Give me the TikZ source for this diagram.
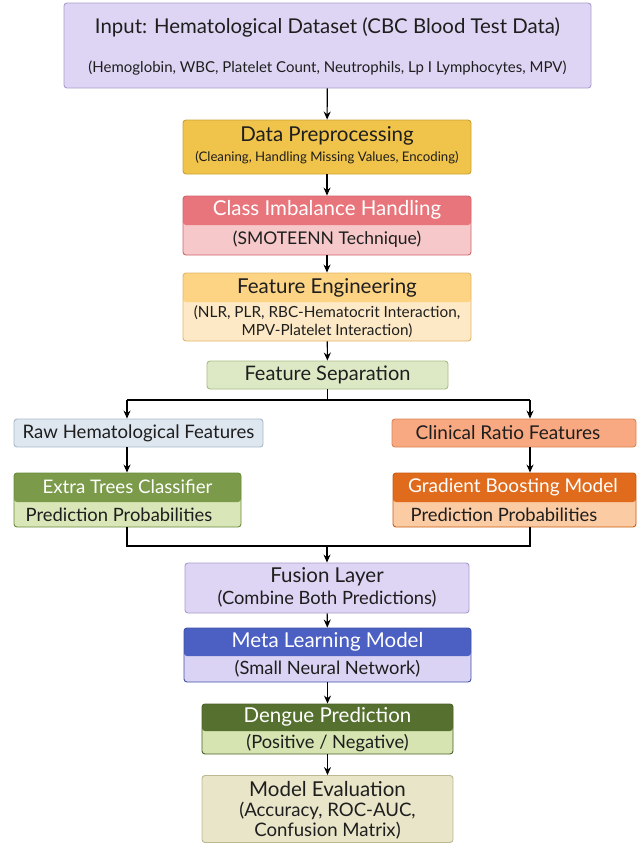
\documentclass[tikz,border=0pt]{standalone}
\usepackage{fontspec}
\setmainfont{Lato}
\usetikzlibrary{arrows.meta}

\definecolor{lav}{HTML}{DDD5F3}
\definecolor{lavd}{HTML}{A99DCB}
\definecolor{gold}{HTML}{F0C34B}
\definecolor{goldd}{HTML}{C9A134}
\definecolor{redt}{HTML}{E8757B}
\definecolor{redb}{HTML}{F6C8CA}
\definecolor{redd}{HTML}{D2646B}
\definecolor{oret}{HTML}{FDD384}
\definecolor{oreb}{HTML}{FDE9C5}
\definecolor{ored}{HTML}{E2B566}
\definecolor{sage}{HTML}{DDE9C5}
\definecolor{saged}{HTML}{A9BC82}
\definecolor{grayb}{HTML}{DEE7EF}
\definecolor{graybd}{HTML}{A7B8C8}
\definecolor{salm}{HTML}{F9A981}
\definecolor{salmd}{HTML}{D98554}
\definecolor{olvt}{HTML}{7B9B4A}
\definecolor{olvb}{HTML}{D9E6B7}
\definecolor{olvd}{HTML}{6A8A3B}
\definecolor{orgt}{HTML}{E06B1C}
\definecolor{orgb}{HTML}{FBCBA3}
\definecolor{orgd}{HTML}{C95C12}
\definecolor{blut}{HTML}{4B60C2}
\definecolor{blub}{HTML}{DAD3F3}
\definecolor{blud}{HTML}{3F52A8}
\definecolor{dgnt}{HTML}{56712F}
\definecolor{dgnb}{HTML}{D5E4B0}
\definecolor{dgnd}{HTML}{4A6128}
\definecolor{beig}{HTML}{E9E5C8}
\definecolor{beigd}{HTML}{BDB891}
\definecolor{ink}{HTML}{1E1E1E}

\tikzset{
  box/.style={draw=#1, rounded corners=3pt, line width=0.9pt, inner sep=0pt},
  duo/.style n args={4}{draw=#1, rounded corners=3pt, line width=0.9pt, inner sep=0pt,
    fill=#3, path picture={\fill[#2] (path picture bounding box.north west)
      rectangle ([yshift=-#4]path picture bounding box.north east);}},
  arr/.style={-{Stealth[length=8pt,width=7pt]}, line width=1.1pt},
  ln/.style={line width=1.1pt},
  ttl/.style={text=ink, font=\fontsize{20.5}{24}\selectfont},
  wttl/.style={text=white, font=\fontsize{20.5}{24}\selectfont},
  sub/.style={text=ink, font=\fontsize{18.3}{21}\selectfont, align=center},
}

\begin{document}
\begin{tikzpicture}[x=1pt,y=-1pt]
\useasboundingbox (0,0) rectangle (641,844);

% input
\node[box=lavd, fill=lav, minimum width=527pt, minimum height=85pt] (inp) at (327.5,45.5) {};
\node[ttl, font=\fontsize{20.4}{24}\selectfont] (inp-t) at (327.5,27) {Input: Hematological Dataset (CBC Blood Test Data)};
\node[sub, font=\fontsize{15}{18}\selectfont] (inp-s) at (327.5,68) {(Hemoglobin, WBC, Platelet Count, Neutrophils, Lp I Lymphocytes, MPV)};

% preprocessing
\node[box=goldd, fill=gold, minimum width=288pt, minimum height=54pt] (pre) at (327,147) {};
\node[ttl] (pre-t) at (327,136) {Data Preprocessing};
\node[sub, font=\fontsize{13.2}{16}\selectfont] (pre-s) at (327,158) {(Cleaning, Handling Missing Values, Encoding)};

% class imbalance
\node[duo={redd}{redt}{redb}{29pt}, minimum width=288pt, minimum height=59pt] (cls) at (327,225.5) {};
\node[wttl] (cls-t) at (327,210) {Class Imbalance Handling};
\node[sub, font=\fontsize{17.5}{21}\selectfont] (cls-s) at (327,239) {(SMOTEENN Technique)};

% feature engineering
\node[duo={ored}{oret}{oreb}{29pt}, minimum width=288pt, minimum height=68pt] (fe) at (327,307) {};
\node[ttl] (fe-t) at (327,288) {Feature Engineering};
\node[sub, font=\fontsize{15.3}{17.5}\selectfont] (fe-s) at (327,321.5) {(NLR, PLR, RBC-Hematocrit Interaction,\\MPV-Platelet Interaction)};

% separation
\node[box=saged, fill=sage, minimum width=241pt, minimum height=28pt] (fs) at (327.5,375) {};
\node[ttl, font=\fontsize{20}{24}\selectfont] (fs-t) at (327.5,375) {Feature Separation};

% two branches
\node[box=graybd, fill=grayb, minimum width=249pt, minimum height=28pt] (raw) at (138.5,433) {};
\node[ttl, font=\fontsize{18.6}{22}\selectfont] (raw-t) at (138.5,433) {Raw Hematological Features};
\node[box=salmd, fill=salm, minimum width=244pt, minimum height=28pt] (cr) at (514,433) {};
\node[ttl, font=\fontsize{19}{22}\selectfont] (cr-t) at (508,433) {Clinical Ratio Features};

\node[duo={olvd}{olvt}{olvb}{29pt}, minimum width=227pt, minimum height=54pt] (et) at (127.5,500) {};
\node[wttl, font=\fontsize{18.7}{22}\selectfont] (et-t) at (127.5,487) {Extra Trees Classifier};
\node[ttl, font=\fontsize{18.4}{22}\selectfont] (et-s) at (119,515) {Prediction Probabilities};
\node[duo={orgd}{orgt}{orgb}{29pt}, minimum width=243pt, minimum height=54pt] (gb) at (514.5,500) {};
\node[wttl, font=\fontsize{19}{22}\selectfont] (gb-t) at (513,487) {Gradient Boosting Model};
\node[ttl, font=\fontsize{18.4}{22}\selectfont] (gb-s) at (504,515) {Prediction Probabilities};

% fusion and meta model
\node[box=lavd, fill=lav, minimum width=284pt, minimum height=50pt] (fu) at (327,588) {};
\node[ttl] (fu-t) at (327,577) {Fusion Layer};
\node[sub] (fu-s) at (327,599) {(Combine Both Predictions)};

\node[duo={blud}{blut}{blub}{28pt}, minimum width=287pt, minimum height=54pt] (ml) at (327.5,655) {};
\node[wttl] (ml-t) at (327.5,642) {Meta Learning Model};
\node[sub] (ml-s) at (327.5,669) {(Small Neural Network)};

\node[duo={dgnd}{dgnt}{dgnb}{27pt}, minimum width=251pt, minimum height=50pt] (dp) at (327.5,729) {};
\node[wttl] (dp-t) at (327.5,717) {Dengue Prediction};
\node[sub] (dp-s) at (327.5,743) {(Positive / Negative)};

\node[box=beigd, fill=beig, minimum width=251pt, minimum height=67pt] (ev) at (327.5,809) {};
\node[ttl] (ev-t) at (327.5,789) {Model Evaluation};
\node[sub, font=\fontsize{18.6}{20}\selectfont] (ev-s) at (327.5,821) {(Accuracy, ROC-AUC,\\Confusion Matrix)};

% connectors
\draw[arr] (inp) -- (pre);
\draw[arr] (pre) -- (cls);
\draw[arr] (cls) -- (fe);
\draw[arr] (fe) -- (fs);

\coordinate (bl) at (127,400);
\coordinate (br) at (530,400);
\draw[ln] (fs.south) -- (fs.south |- bl);
\draw[ln] (bl) -- (br);
\draw[arr] (bl) -- (bl |- raw.north);
\draw[arr] (br) -- (br |- cr.north);
\draw[arr] (bl |- raw.south) -- (bl |- et.north);
\draw[arr] (br |- cr.south) -- (br |- gb.north);

\coordinate (jl) at (127,546);
\coordinate (jr) at (530,546);
\draw[ln] (bl |- et.south) -- (jl) -- (jr) -- (br |- gb.south);
\draw[arr] (fu.north |- jl) -- (fu.north);

\draw[arr] (fu) -- (ml);
\draw[arr] (ml) -- (dp);
\draw[arr] (dp) -- (ev);

\end{tikzpicture}
\end{document}
